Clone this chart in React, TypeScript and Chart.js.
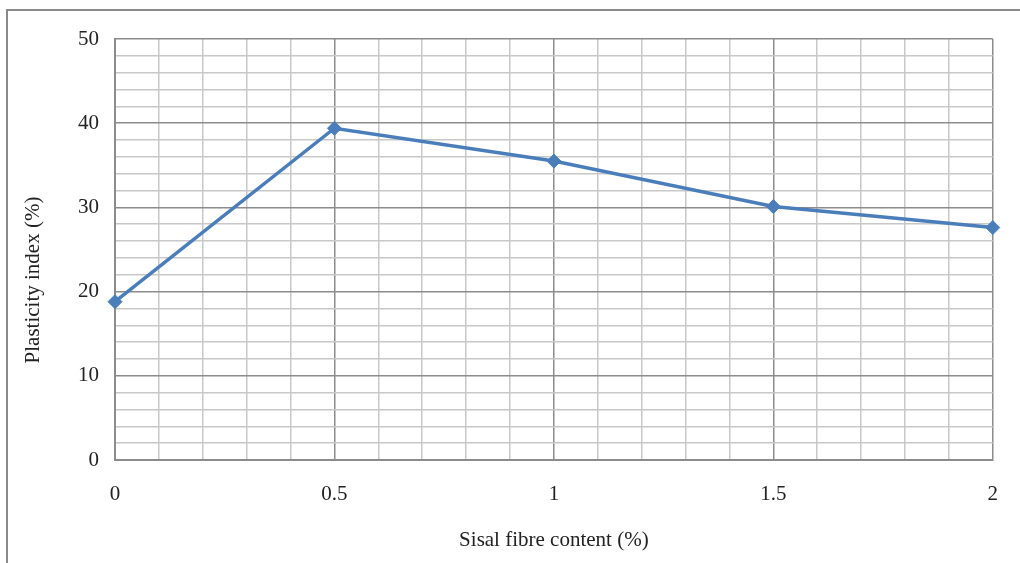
import React, { useEffect, useRef } from "react";
import { Chart, registerables } from "chart.js";

Chart.register(...registerables);

const fibreContent = [0, 0.5, 1, 1.5, 2];
const plasticityIndex = [18.8, 39.4, 35.5, 30.1, 27.6];
const xTickValues = [0, 0.5, 1, 1.5, 2];
const xTickLabels = ["0", "0.5", "1", "1.5", "2"];
const yTickValues = [0, 10, 20, 30, 40, 50];
const yTickLabels = ["0", "10", "20", "30", "40", "50"];
const xTitle = "Sisal fibre content (%)";
const yTitle = "Plasticity index (%)";

const FONT = "'Liberation Serif', 'Times New Roman', serif";
const MAJOR = "#8c8c8c";
const MINOR = "#c8c8c8";
const TEXT = "#222";

const findIdx = (arr: number[], v: number) => arr.findIndex((a) => Math.abs(a - v) < 1e-6);

const outerFrame = {
  id: "outerFrame",
  beforeDraw(chart: any) {
    const ctx = chart.ctx;
    ctx.save();
    ctx.strokeStyle = "#8a8a8a";
    ctx.lineWidth = 2;
    ctx.beginPath();
    ctx.moveTo(7, 563);
    ctx.lineTo(7, 10);
    ctx.lineTo(1020, 10);
    ctx.stroke();
    ctx.restore();
  },
};

const yTitlePlugin = {
  id: "yTitlePlugin",
  afterDraw(chart: any) {
    const ctx = chart.ctx;
    ctx.save();
    ctx.translate(33, 280);
    ctx.rotate(-Math.PI / 2);
    ctx.fillStyle = TEXT;
    ctx.font = `21px ${FONT}`;
    ctx.textAlign = "center";
    ctx.textBaseline = "middle";
    ctx.fillText(yTitle, 0, 0);
    ctx.restore();
  },
};

export default function App() {
  const ref = useRef<HTMLCanvasElement>(null);
  useEffect(() => {
    if (!ref.current) return;
    const chart = new Chart(ref.current, {
      type: "line",
      data: {
        datasets: [
          {
            data: fibreContent.map((x, i) => ({ x, y: plasticityIndex[i] })),
            borderColor: "#4a7ebb",
            backgroundColor: "#4a7ebb",
            borderWidth: 3.5,
            pointStyle: "rectRot",
            pointRadius: 7,
            pointBackgroundColor: "#4a7ebb",
            pointBorderColor: "#4a7ebb",
            pointBorderWidth: 1,
            tension: 0,
            clip: false,
          },
        ],
      },
      options: {
        animation: false,
        responsive: false,
        layout: { padding: { top: 39, right: 26, left: 0, bottom: 0 } },
        plugins: { legend: { display: false }, tooltip: { enabled: false } },
        scales: {
          x: {
            type: "linear",
            min: 0,
            max: 2,
            afterFit: (s: any) => {
              s.height = 103;
            },
            ticks: {
              stepSize: 0.1,
              autoSkip: false,
              maxRotation: 0,
              padding: 22,
              color: TEXT,
              font: { family: FONT, size: 21 },
              callback: (v: any) => {
                const i = findIdx(xTickValues, Number(v));
                return i >= 0 ? xTickLabels[i] : "";
              },
            },
            grid: {
              drawTicks: false,
              lineWidth: 1.5,
              color: (c: any) => (findIdx(xTickValues, c.tick?.value ?? -1) >= 0 ? MAJOR : MINOR),
            },
            border: { display: true, color: MAJOR, width: 2 },
            title: {
              display: true,
              text: xTitle,
              color: TEXT,
              font: { family: FONT, size: 21 },
              padding: { top: 0, bottom: 10 },
            },
          },
          y: {
            type: "linear",
            min: 0,
            max: 50,
            afterFit: (s: any) => {
              s.width = 115;
            },
            ticks: {
              stepSize: 2,
              autoSkip: false,
              padding: 16,
              color: TEXT,
              font: { family: FONT, size: 21 },
              callback: (v: any) => {
                const i = findIdx(yTickValues, Number(v));
                return i >= 0 ? yTickLabels[i] : "";
              },
            },
            grid: {
              drawTicks: false,
              lineWidth: 1.5,
              color: (c: any) => (findIdx(yTickValues, c.tick?.value ?? -1) >= 0 ? MAJOR : MINOR),
            },
            border: { display: true, color: MAJOR, width: 2 },
            title: { display: false },
          },
        },
      },
      plugins: [outerFrame, yTitlePlugin],
    } as any);
    return () => chart.destroy();
  }, []);
  return (
    <div style={{ position: "absolute", left: 0, top: 0, width: 1020, height: 563, background: "#fff" }}>
      <canvas ref={ref} width={1020} height={563} />
    </div>
  );
}
